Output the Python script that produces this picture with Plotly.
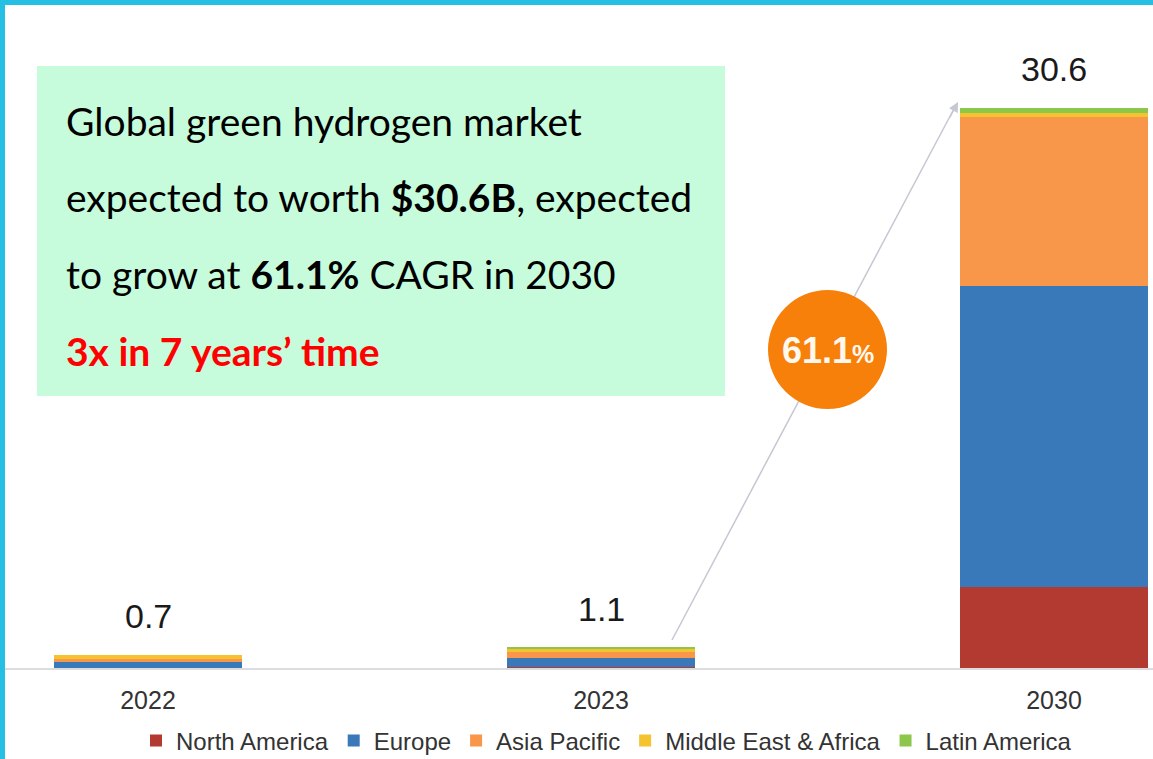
import plotly.graph_objects as go

years = ["2022", "2023", "2030"]
north_america = [0.02, 0.05, 4.4]
europe = [0.33, 0.5, 16.5]
asia_pacific = [0.15, 0.3, 9.2]
middle_east_africa = [0.2, 0.2, 0.25]
latin_america = [0.0, 0.05, 0.25]

regions = ["North America", "Europe", "Asia Pacific", "Middle East & Africa", "Latin America"]
colors = ["#b33a30", "#3a79b9", "#f8964a", "#f5c230", "#8cc64a"]
series = [north_america, europe, asia_pacific, middle_east_africa, latin_america]

cagr = "61.1"

W, H = 1153, 759
# plot area in pixels
PL, PR, PT, PB = 5, 1153, 40, 668

def px_x(px):
  return (px - PL) / (PR - PL)

def px_y(py):
  return (PB - py) / (PB - PT)

fig = go.Figure()
xs = list(range(len(years)))
for name, vals, col in zip(regions, series, colors):
  fig.add_trace(go.Bar(x=xs, y=vals, name=name, marker=dict(color=col, line_width=0),
                       width=0.413, hoverinfo="skip"))

totals = [sum(v[i] for v in series) for i in xs]
annotations = []
for i, t in zip(xs, totals):
  annotations.append(dict(x=i, y=t, xref="x", yref="y", text=f"{t:.1f}", showarrow=False,
                          yanchor="bottom", yshift=18,
                          font=dict(family="Liberation Sans, Arial", size=34, color="#1a1a1a")))

# text box
box_font = dict(family="Lato, Open Sans, sans-serif", size=39, color="black")
lines = [
  ("Global green hydrogen market", 121, "black"),
  ("expected to worth <b>$30.6B</b>, expected", 197, "black"),
  (f"to grow at <b>{cagr}%</b> CAGR in 2030", 274, "black"),
  ("<b>3x in 7 years\u2019 time</b>", 351, "#ff0000"),
]
for txt, yc, col in lines:
  annotations.append(dict(x=px_x(64), y=px_y(yc), xref="paper", yref="paper", text=txt,
                          showarrow=False, xanchor="left", yanchor="middle",
                          font=dict(box_font, color=col)))

# CAGR bubble text
annotations.append(dict(x=px_x(828), y=px_y(350), xref="paper", yref="paper",
                        text=f"<b>{cagr}</b><span style='font-size:25px'><b>%</b></span>",
                        showarrow=False, xanchor="center", yanchor="middle",
                        font=dict(family="Liberation Sans, Arial", size=36, color="#fff8ee")))
# arrow head
annotations.append(dict(x=px_x(958), y=px_y(102), xref="paper", yref="paper", text="",
                        showarrow=True, ax=-9, ay=17, arrowhead=2, arrowsize=1.3,
                        arrowwidth=1.5, arrowcolor="#c5c8d2", standoff=0))

shapes = [
  # cyan frame (top + left)
  dict(type="rect", xref="paper", yref="paper", x0=px_x(0), x1=px_x(W), y0=px_y(5), y1=px_y(0),
       fillcolor="#25bfe3", line_width=0),
  dict(type="rect", xref="paper", yref="paper", x0=px_x(0), x1=px_x(5), y0=px_y(H), y1=px_y(0),
       fillcolor="#25bfe3", line_width=0),
  # green text box
  dict(type="rect", xref="paper", yref="paper", x0=px_x(37), x1=px_x(725), y0=px_y(396), y1=px_y(66),
       fillcolor="#c6fcdc", line_width=0),
  # growth arrow line
  dict(type="line", xref="paper", yref="paper", x0=px_x(672), y0=px_y(640), x1=px_x(956), y1=px_y(105),
       line=dict(color="#c5c8d2", width=1.5)),
  # orange bubble
  dict(type="circle", xref="paper", yref="paper", x0=px_x(768), x1=px_x(887), y0=px_y(409), y1=px_y(290),
       fillcolor="#f7800a", line_width=0),
]

fig.update_layout(
  width=W, height=H,
  barmode="stack",
  paper_bgcolor="white", plot_bgcolor="white",
  margin=dict(l=PL, r=W - PR, t=PT, b=H - PB),
  xaxis=dict(tickvals=xs, ticktext=years, range=[-143 / 453, (PR - PL - 143) / 453],
             showline=True, linecolor="#dcdcdc", linewidth=1.5, showgrid=False, zeroline=False,
             ticks="", ticklabelstandoff=9,
             tickfont=dict(family="Liberation Sans, Arial", size=25, color="#333333")),
  yaxis=dict(range=[0, 34.32], visible=False, showgrid=False, zeroline=False),
  legend=dict(orientation="h", xref="container", yref="container", x=(150 - 14) / W, xanchor="left",
              y=1 - 741 / H, yanchor="middle", traceorder="normal", bgcolor="rgba(0,0,0,0)",
              font=dict(family="Liberation Sans, Arial", size=24, color="#333333")),
  annotations=annotations,
  shapes=shapes,
  showlegend=True,
)

# drop the default page margin so the figure sits at the window's corner
fig.write_html("out.html", config={"displayModeBar": False},
               post_script="document.body.style.margin='0';")
